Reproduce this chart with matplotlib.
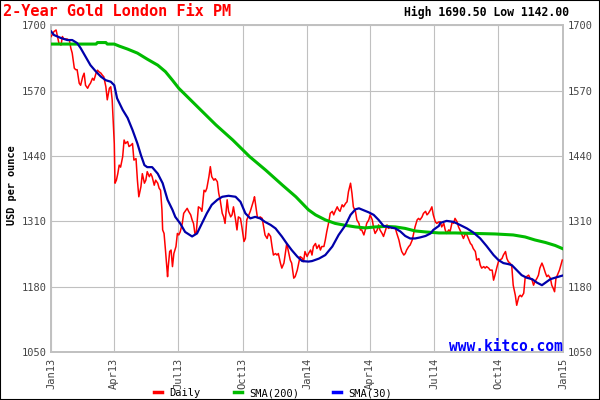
import numpy as np
import matplotlib
matplotlib.use("Agg")
import matplotlib.pyplot as plt
import matplotlib.dates as mdates
from matplotlib.lines import Line2D
from matplotlib.patches import Rectangle

# days counted from 2013-01-01
start = np.datetime64("2013-01-01")

daily_day = [0, 4, 7, 11, 14, 16, 18, 21, 23, 26, 28, 30, 33, 35, 37, 40, 42, 45, 47, 49,
             52, 54, 56, 59, 61, 64, 66, 68, 71, 73, 75, 78, 80, 83, 85, 87, 90, 91, 93, 95,
             97, 99, 102, 104, 106, 109, 111, 114, 116, 118, 121, 123, 125, 128, 130, 133, 135, 137, 140, 142,
             144, 147, 149, 152, 154, 156, 158, 159, 161, 163, 166, 167, 169, 171, 173, 175, 178, 180, 182,
             184, 187, 189, 191, 194, 196, 199, 201, 203, 205, 207, 208, 210, 213, 215, 218, 220, 222, 225, 227,
             229, 232, 234, 237, 239, 241, 244, 246, 248, 251, 253, 256, 258, 260, 263, 265, 267, 270, 272, 275,
             277, 279, 282, 284, 286, 289, 290, 292, 294, 296, 298, 301, 303, 305, 308, 310, 313, 315, 317, 320,
             322, 324, 327, 329, 332, 334, 336, 339, 341, 343, 346, 348, 351, 353, 355, 358, 360, 362, 365, 367,
             370, 372, 374, 377, 379, 382, 384, 386, 389, 391, 393, 396, 398, 401, 403, 405, 408, 410, 412, 415,
             417, 420, 422, 424, 427, 429, 431, 434, 436, 439, 441, 443, 446, 448, 450, 453, 455, 458, 460, 462,
             465, 467, 469, 472, 474, 477, 479, 481, 484, 486, 488, 491, 493, 496, 498, 500, 503, 505, 507, 510,
             512, 515, 517, 519, 522, 524, 526, 529, 531, 534, 536, 538, 541, 543, 545, 548, 550, 553,
             555, 557, 560, 562, 564, 567, 569, 572, 574, 576, 579, 581, 583, 586, 588, 591, 593, 595, 598, 600,
             602, 605, 607, 610, 612, 614, 617, 619, 621, 624, 626, 629, 631, 633, 636, 638, 640, 643, 645, 648,
             650, 652, 655, 657, 659, 662, 664, 667, 669, 671, 674, 676, 678, 681, 683, 686, 688, 690, 693, 695,
             697, 700, 702, 705, 707, 709, 712, 714, 716, 718, 720, 722, 725, 727, 729]
daily_usd = [1678, 1688, 1691, 1665, 1661, 1678, 1673, 1673, 1673, 1670, 1655, 1645, 1615, 1612, 1612, 1585, 1581, 1598, 1605, 1581,
             1575, 1581, 1585, 1595, 1591, 1605, 1611, 1608, 1605, 1601, 1598, 1578, 1552, 1575, 1578, 1552, 1465, 1386, 1392, 1405,
             1422, 1418, 1439, 1472, 1465, 1469, 1459, 1462, 1465, 1432, 1435, 1392, 1359, 1379, 1405, 1386, 1392, 1409, 1399, 1405,
             1399, 1382, 1392, 1386, 1376, 1372, 1333, 1293, 1286, 1253, 1200, 1220, 1250, 1253, 1220, 1246, 1260, 1286, 1283,
             1289, 1306, 1326, 1330, 1336, 1330, 1323, 1313, 1306, 1286, 1289, 1306, 1339, 1336, 1330, 1372, 1369, 1376, 1399, 1419,
             1399, 1392, 1395, 1389, 1366, 1353, 1326, 1319, 1306, 1353, 1330, 1319, 1323, 1339, 1313, 1293, 1319, 1316, 1299, 1270,
             1276, 1313, 1323, 1330, 1339, 1353, 1359, 1339, 1319, 1316, 1319, 1316, 1299, 1283, 1276, 1286, 1280, 1260, 1243, 1246,
             1243, 1246, 1227, 1217, 1227, 1246, 1266, 1246, 1233, 1227, 1197, 1200, 1213, 1227, 1240, 1237, 1230, 1250, 1240, 1246,
             1253, 1243, 1260, 1266, 1256, 1263, 1253, 1260, 1260, 1273, 1289, 1309, 1326, 1330, 1323, 1330, 1339, 1333, 1330, 1343,
             1339, 1346, 1349, 1369, 1386, 1366, 1339, 1330, 1313, 1306, 1293, 1293, 1283, 1293, 1306, 1313, 1323, 1313, 1296, 1286,
             1293, 1303, 1293, 1286, 1280, 1293, 1303, 1296, 1299, 1296, 1299, 1296, 1286, 1273, 1260, 1250, 1243, 1246, 1253, 1260,
             1263, 1273, 1286, 1299, 1313, 1316, 1313, 1319, 1326, 1330, 1323, 1326, 1333, 1339, 1323, 1309, 1306, 1309,
             1309, 1299, 1306, 1293, 1286, 1293, 1290, 1309, 1306, 1316, 1309, 1299, 1293, 1283, 1276, 1286, 1283, 1276, 1266, 1263,
             1256, 1250, 1233, 1236, 1223, 1217, 1220, 1217, 1220, 1217, 1213, 1213, 1193, 1203, 1220, 1230, 1233, 1236, 1243, 1250,
             1236, 1230, 1226, 1220, 1183, 1163, 1143, 1160, 1163, 1160, 1167, 1197, 1200, 1203, 1197, 1193, 1183, 1190, 1197, 1203,
             1217, 1227, 1220, 1207, 1200, 1203, 1197, 1183, 1177, 1170, 1197, 1203, 1213, 1223, 1233]

sma200_day = [0, 64, 66, 78, 80, 90, 97, 109, 123, 137, 152, 163, 173, 182, 211, 235, 259, 283, 306, 330,
              349, 367, 377, 391, 405, 420, 434, 448, 462, 477, 491, 505, 519, 534, 553, 576, 605, 633, 659, 676,
              690, 705, 719, 729]
sma200_usd = [1663, 1663, 1666, 1666, 1663, 1663, 1659, 1653, 1645, 1633, 1621, 1608, 1591, 1575, 1535, 1502, 1472, 1439, 1412, 1382,
              1359, 1333, 1323, 1313, 1306, 1302, 1299, 1297, 1299, 1300, 1299, 1296, 1291, 1289, 1287, 1287, 1286, 1285, 1283, 1279,
              1273, 1268, 1262, 1256]

sma30_day = [0, 4, 14, 23, 30, 37, 42, 49, 56, 64, 71, 78, 85, 90, 94, 102, 109, 116, 123, 128, 133, 137, 144, 152, 159, 166, 173,
             177, 184, 191, 201, 208, 215, 222, 229, 237, 244, 253, 263, 270, 277, 284, 291, 298, 305, 313, 320, 329, 336, 343, 351, 358, 367,
             372, 382, 391, 401, 410, 420, 427, 434, 439, 446, 453, 460, 467, 474, 481, 491, 498, 505, 512, 519, 526, 534, 541, 545, 553,
             555, 564, 574, 583, 593, 602, 612, 621, 631, 638, 645, 652, 657, 664, 671, 678, 686, 693, 700, 705, 712, 719, 729]
sma30_usd = [1688, 1681, 1675, 1671, 1671, 1665, 1655, 1638, 1621, 1608, 1598, 1591, 1588, 1581, 1555, 1532, 1516, 1492, 1465, 1442, 1422, 1418, 1418, 1405, 1386, 1353, 1333,
             1319, 1306, 1289, 1280, 1286, 1306, 1326, 1343, 1353, 1359, 1361, 1359, 1349, 1326, 1316, 1319, 1316, 1309, 1303, 1296, 1280, 1266, 1253, 1240, 1231, 1230,
             1231, 1236, 1243, 1260, 1283, 1303, 1323, 1334, 1336, 1332, 1328, 1323, 1313, 1301, 1299, 1296, 1290, 1281, 1276, 1276, 1278, 1281, 1286, 1293, 1301,
             1307, 1311, 1309, 1303, 1296, 1288, 1276, 1261, 1243, 1233, 1227, 1225, 1223, 1213, 1203, 1198, 1195, 1188, 1183, 1188, 1195, 1198, 1202]

quarter_ticks = ["2013-01-01", "2013-04-01", "2013-07-01", "2013-10-01", "2014-01-01",
                 "2014-04-01", "2014-07-01", "2014-10-01", "2015-01-01"]
price_ticks = [1050, 1180, 1310, 1440, 1570, 1700]


def to_dates(days):
    return start + np.array(days, dtype="timedelta64[D]")


plt.rcParams["font.family"] = "DejaVu Sans Mono"

fig = plt.figure(figsize=(6, 4), dpi=100)
ax = fig.add_axes([0.0853, 0.12, 0.853, 0.8163])

ax.plot(to_dates(daily_day), daily_usd, color="#ff0000", lw=1.1, zorder=3)
ax.plot(to_dates(sma200_day), sma200_usd, color="#00bb00", lw=2.2, zorder=4)
ax.plot(to_dates(sma30_day), sma30_usd, color="#0000aa", lw=1.6, zorder=5)

ax.set_xlim(np.datetime64("2013-01-01"), np.datetime64("2015-01-01"))
ax.set_ylim(1050, 1700)
ax.set_xticks([np.datetime64(d) for d in quarter_ticks])
ax.xaxis.set_major_formatter(mdates.DateFormatter("%b%y"))
ax.set_yticks(price_ticks)

ax.tick_params(axis="x", length=0, labelsize=7.5, labelcolor="#444444", rotation=90, pad=4)
ax.tick_params(axis="y", length=0, labelsize=7.5, labelcolor="#444444", pad=3.5,
               left=True, right=True, labelleft=True, labelright=True)

ax.grid(True, color="#c0c0c0", lw=0.8, zorder=0)
for s in ax.spines.values():
    s.set_color("#c0c0c0")
    s.set_linewidth(1.4)

ax.text(1.0, 0.004, "www.kitco.com", transform=ax.transAxes, ha="right", va="baseline",
        color="#0000ff", fontsize=10.5, fontweight="bold", zorder=6)

fig.text(3 / 600, 1 - 12 / 400, "2-Year Gold London Fix PM", color="#ff0000",
         fontsize=11, fontweight="bold", ha="left", va="center")
fig.text(569 / 600, 1 - 12.5 / 400, "High 1690.50 Low 1142.00", color="black",
         fontsize=8.3, fontweight="bold", ha="right", va="center")
fig.text(12.5 / 600, 1 - 185 / 400, "USD per ounce", rotation=90, fontsize=7.4,
         fontweight="bold", ha="center", va="center")

handles = [Line2D([], [], color="#ff0000", lw=2.5),
           Line2D([], [], color="#00bb00", lw=2.5),
           Line2D([], [], color="#0000ff", lw=2.5)]
fig.legend(handles, ["Daily", "SMA(200)", "SMA(30)"], loc="center",
           bbox_to_anchor=(0.455, 1 - 393 / 400), ncol=3, frameon=False, fontsize=7.5,
           handlelength=0.8, handletextpad=0.7, columnspacing=3.2)

fig.patches.append(Rectangle((0, 0), 1, 1, transform=fig.transFigure, fill=False,
                             edgecolor="black", lw=1.5))

fig.savefig("out.png", dpi=100)
